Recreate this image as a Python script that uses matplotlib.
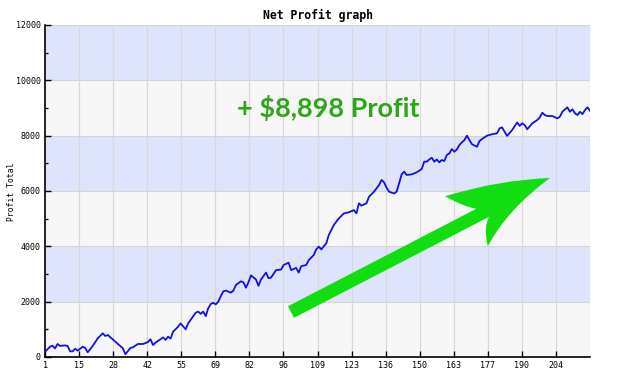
import numpy as np
import matplotlib
matplotlib.use("Agg")
import matplotlib.pyplot as plt
from matplotlib.path import Path
from matplotlib.patches import PathPatch

# trade number and running profit
trades = [1, 3, 4, 5, 6, 7, 9, 10, 11, 12, 13, 14, 16, 17, 18, 20, 22, 24, 25, 26,
          29, 32, 33, 35, 36, 38, 40, 42, 43, 44, 45, 47, 48, 49, 50, 51, 52, 54, 55, 57,
          58, 61, 62, 63, 64, 65, 66, 67, 68, 69, 70, 71, 72, 73, 75, 76, 77, 79, 80, 81,
          82, 83, 85, 86, 87, 89, 90, 91, 93, 95, 96, 98, 99, 101, 102, 103, 105, 106, 108, 109,
          110, 111, 113, 114, 116, 118, 120, 122, 124, 125, 126, 127, 129, 130, 132, 134, 135, 136, 137, 138,
          140, 141, 142, 143, 144, 145, 147, 149, 151, 152, 153, 154, 155, 156, 157, 158, 159, 160, 161, 162,
          163, 164, 165, 166, 167, 168, 169, 170, 171, 173, 174, 175, 177, 179, 181, 182, 183, 184, 185, 187,
          189, 190, 191, 192, 193, 195, 197, 198, 199, 200, 201, 203, 205, 206, 207, 209, 210, 211, 212, 213,
          214, 215, 216, 217, 218]
profit = [190, 370, 410, 310, 470, 400, 420, 400, 205, 205, 300, 230, 370, 330, 170, 400, 675, 855, 760, 795,
          555, 315, 100, 325, 350, 470, 470, 540, 640, 435, 520, 640, 710, 615, 735, 665, 915, 1095, 1215, 1000,
          1215, 1600, 1640, 1560, 1640, 1480, 1760, 1915, 1960, 1900, 2000, 2200, 2375, 2400, 2325, 2400, 2600, 2735, 2700, 2505,
          2700, 2950, 2800, 2575, 2800, 3050, 2850, 2870, 3140, 3160, 3325, 3410, 3140, 3220, 3050, 3280, 3325, 3500, 3685, 3890,
          3990, 3890, 4110, 4410, 4770, 5010, 5190, 5230, 5310, 5190, 5555, 5470, 5555, 5790, 5975, 6215, 6400, 6315, 6120, 5975,
          5910, 5975, 6280, 6600, 6700, 6580, 6600, 6675, 6795, 7060, 7060, 7140, 7200, 7060, 7140, 7035, 7120, 7085, 7300, 7360,
          7515, 7420, 7505, 7660, 7760, 7840, 8000, 7840, 7690, 7600, 7805, 7880, 8000, 8050, 8085, 8265, 8300, 8140, 7990, 8205,
          8480, 8350, 8445, 8385, 8230, 8445, 8565, 8660, 8830, 8745, 8710, 8710, 8625, 8685, 8865, 9025, 8865, 8950, 8810, 8745,
          8865, 8780, 8925, 9025, 8898]

xtick_labels = ["1", "15", "28", "42", "55", "69", "82", "96", "109", "123",
                "136", "150", "163", "177", "190", "204"]
band_edges = [0, 2000, 4000, 6000, 8000, 10000, 12000]

W, H = 622, 382
fig = plt.figure(figsize=(W / 100, H / 100), dpi=100)
ax = fig.add_axes([45 / W, 25 / H, 545 / W, 332 / H])

n_last = trades[-1]
ax.set_xlim(1, n_last)
ax.set_ylim(band_edges[0], band_edges[-1])

# alternating bands
for k in range(len(band_edges) - 1):
    col = "#f7f7f7" if k % 2 == 0 else "#dde4fc"
    ax.axhspan(band_edges[k], band_edges[k + 1], color=col, lw=0, zorder=0)
for b in band_edges[1:]:
    ax.axhline(b, color="#d4d4d4", lw=0.8, zorder=1)

xticks = np.linspace(1, n_last, 17)[:-1]
for xt in np.linspace(1, n_last, 17)[1:]:
    ax.axvline(xt, color="#d8d8d8", lw=0.9, zorder=1)

ax.plot(trades, profit, color="#1010ee", lw=1.3, zorder=3)

mono = "DejaVu Sans Mono"
ax.set_xticks(xticks)
ax.set_xticklabels(xtick_labels, fontsize=6, family=mono)
ax.set_yticks(band_edges)
ax.set_yticklabels([str(v) for v in band_edges], fontsize=6, family=mono)
ax.set_yticks(band_edges[:-1] + np.diff(band_edges) / 2, minor=True)
ax.tick_params(axis="both", direction="in", length=4, width=1, pad=3)
ax.tick_params(axis="y", which="minor", direction="in", length=2.5, width=1)
for s in ["top", "right"]:
    ax.spines[s].set_visible(False)
for s in ["left", "bottom"]:
    ax.spines[s].set_linewidth(1.2)

fig.text(12 / W, 1 - 192 / H, "Profit Total", rotation=90, ha="center", va="center",
         fontsize=5.8, family=mono)
fig.text(318 / W, 1 - 15 / H, "Net Profit graph", ha="center", va="center",
         fontsize=8.3, family=mono, fontweight="bold")

ax.text((328 - 45) / 545, (357 - 108) / 332, "+ $8,898 Profit", transform=ax.transAxes,
        ha="center", va="center", fontsize=19.5, family="Lato", fontweight="bold",
        color="#2ea61a", zorder=4)

# big green arrow, built in pixel space
tail = np.array([291.0, H - 312.0])
tip = np.array([550.0, H - 178.0])
d = (tip - tail) / np.linalg.norm(tip - tail)
nrm = np.array([-d[1], d[0]])
L = np.linalg.norm(tip - tail)
local = [(0, 6.5), (212, 6.5), (202, 14), (190, 32), (245, 22), (L, 0),
         (240, -8), (205, -32), (210, -12), (220, -6.5), (0, -6.5), (0, 6.5)]
codes = [Path.MOVETO, Path.LINETO, Path.CURVE3, Path.CURVE3, Path.CURVE3, Path.CURVE3,
         Path.CURVE3, Path.CURVE3, Path.CURVE3, Path.CURVE3, Path.LINETO, Path.CLOSEPOLY]
pts = [tail + t * d + s * nrm for t, s in local]
pts = [(p[0] / W, p[1] / H) for p in pts]
fig.patches.append(PathPatch(Path(pts, codes), transform=fig.transFigure,
                             facecolor="#11dd11", edgecolor="none", zorder=5))

fig.savefig("out.png", dpi=100)
